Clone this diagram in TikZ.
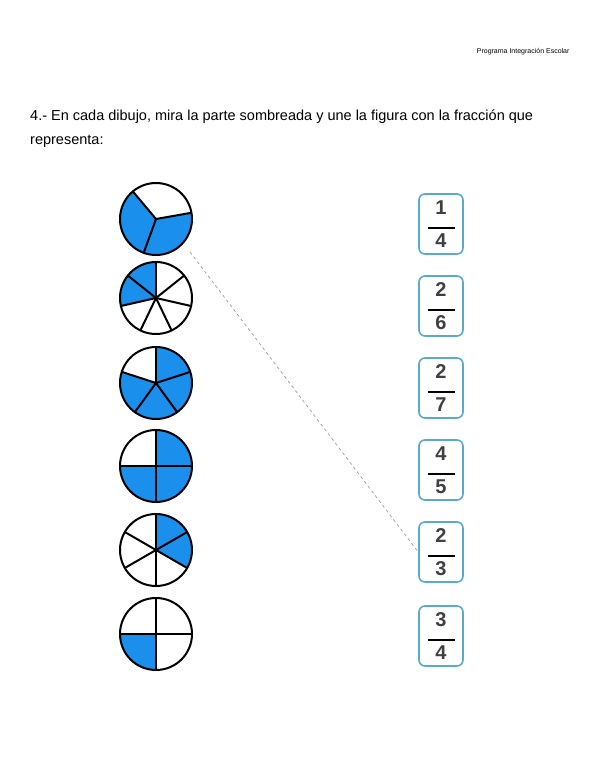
\documentclass[tikz,border=0pt]{standalone}
\usepackage{fontspec}
\setmainfont{Liberation Sans}
\definecolor{piefill}{HTML}{1A8FEB}
\definecolor{boxline}{HTML}{5AAACB}
\begin{document}
\begin{tikzpicture}[x=1pt,y=-1pt,
  pieline/.style={line width=2pt,black},
  fracbox/.style={draw=boxline,line width=1.6pt,rounded corners=6pt,minimum width=44pt,minimum height=60pt,inner sep=0pt,align=center},
  guide/.style={gray!70,dashed,line width=0.8pt}]
\useasboundingbox (0,0) rectangle (600,777);
\def\rr{36}
% header and instruction
\node[anchor=east,font=\fontsize{7}{8}\selectfont] (head) at (573,52) {Programa Integración Escolar};
\node[anchor=north west,align=left,font=\fontsize{14.5}{24}\selectfont,inner sep=0pt] (task) at (30,110)
  {4.- En cada dibujo, mira la parte sombreada y une la figura con la fracción que\\representa:};
% pies: centre y / parts / start angle / shaded sectors
\foreach \cy/\n/\st/\sh [count=\i] in {219/3/10/{2,3},298/7/90/{1,2},383/5/90/{2,3,4,5},466/4/0/{1,3,4},550/6/-30/{1,2},634/4/0/{3}} {
  \coordinate (pie\i) at (156,\cy);
  \begin{scope}[shift={(pie\i)},yscale=-1]
  \foreach \k in \sh {
    \fill[piefill] (0,0) -- ({\st+(\k-1)*360/\n}:\rr) arc[start angle={\st+(\k-1)*360/\n},delta angle={360/\n},radius=\rr] -- cycle;
  }
  \foreach \k in {1,...,\n} \draw[pieline] (0,0) -- ({\st+(\k-1)*360/\n}:\rr);
  \draw[pieline] (0,0) circle[radius=\rr];
  \end{scope}
}
% fraction boxes
\foreach \cy/\a/\b [count=\i] in {224/1/4,306/2/6,388/2/7,470/4/5,552/2/3,636/3/4}
  \node[fracbox,font=\fontsize{20}{19}\selectfont\bfseries] (frac\i) at (441,\cy)
    {\textcolor{black!75}{\a}\\[-4pt]\rule{27pt}{2.2pt}\\[-1pt]\textcolor{black!75}{\b}};
\draw[guide] (pie1) ++(34,33) coordinate (g1) -- (frac5.west);
\end{tikzpicture}
\end{document}
